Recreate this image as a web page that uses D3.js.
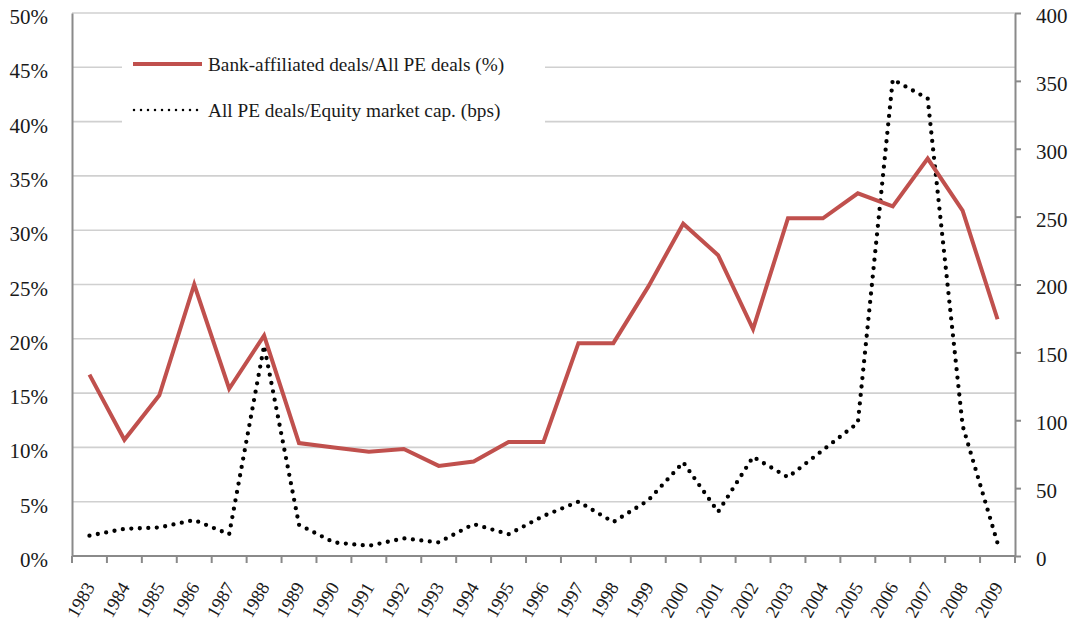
<!DOCTYPE html>
<html>
<head>
<meta charset="utf-8">
<script src="https://cdn.jsdelivr.net/npm/d3@7"></script>
<style>
  body { margin: 0; background: #fff; }
  text { font-family: "Liberation Serif", "Times New Roman", serif; fill: #1a1a1a; }
</style>
</head>
<body>
<div id="chart"></div>
<script>
// years on the x axis
const years = d3.range(1983, 2010).map(String);
// bank-affiliated deals / all PE deals, in %
const bankShare = [16.7, 10.7, 14.8, 25.0, 15.4, 20.3, 10.4, 10.0, 9.6, 9.85, 8.3, 8.7, 10.5, 10.5,
  19.6, 19.6, 24.8, 30.6, 27.7, 20.9, 31.1, 31.1, 33.4, 32.2, 36.6, 31.8, 21.8];
// all PE deals / equity market cap, in bps
const peToMcap = [15, 20, 21, 26.5, 16, 155, 23, 10, 7.5, 13, 10, 23.5, 16, 29.5,
  40, 25, 41, 69, 32.5, 73, 58, 78, 98, 351, 337, 96, 9.5];
const leftTicks = [0, 5, 10, 15, 20, 25, 30, 35, 40, 45, 50];
const rightTicks = [0, 50, 100, 150, 200, 250, 300, 350, 400];
const legendLabels = ['Bank-affiliated deals/All PE deals (%)', 'All PE deals/Equity market cap. (bps)'];

const width = 1073, height = 627;
const margin = {top: 13, right: 58, bottom: 71, left: 72};
const chartWidth = width - margin.left - margin.right;
const chartHeight = height - margin.top - margin.bottom;

const svg = d3.select('#chart').append('svg')
  .attr('width', width)
  .attr('height', height);

const chart = svg.append('g')
  .attr('transform', `translate(${margin.left}, ${margin.top})`);

const scaleX = d3.scaleBand().domain(years).range([0, chartWidth]);
const scaleY = d3.scaleLinear().domain([0, 50]).range([chartHeight, 0]);
const scaleY2 = d3.scaleLinear().domain([0, 400]).range([chartHeight, 0]);

// gridlines
chart.selectAll('.grid')
  .data(leftTicks.filter(d => d > 0))
  .join('line')
  .attr('class', 'grid')
  .attr('x1', 0).attr('x2', chartWidth)
  .attr('y1', d => scaleY(d)).attr('y2', d => scaleY(d))
  .attr('stroke', '#d0d0d0')
  .attr('stroke-width', 1.6);

// left axis
const axisY = chart.append('g')
  .call(d3.axisLeft(scaleY).tickValues(leftTicks).tickSize(0).tickPadding(24).tickFormat(d => d + '%'));
axisY.select('.domain').attr('stroke', '#8a8a8a').attr('stroke-width', 2);
axisY.selectAll('text').style('font-size', '21px').attr('dy', '0.5em');

// right axis
const axisY2 = chart.append('g')
  .attr('transform', `translate(${chartWidth}, 0)`)
  .call(d3.axisRight(scaleY2).tickValues(rightTicks).tickSizeInner(6).tickSizeOuter(0).tickPadding(15));
axisY2.select('.domain').attr('stroke', '#8a8a8a').attr('stroke-width', 2);
axisY2.selectAll('line').attr('stroke', '#8a8a8a').attr('stroke-width', 2);
axisY2.selectAll('text').style('font-size', '21px').attr('dy', '0.45em');

// bottom axis, ticks between categories
const axisX = chart.append('g')
  .attr('transform', `translate(0, ${chartHeight})`);
axisX.append('line')
  .attr('x1', 0).attr('x2', chartWidth)
  .attr('stroke', '#8a8a8a').attr('stroke-width', 2);
axisX.selectAll('.xtick')
  .data(d3.range(years.length + 1))
  .join('line')
  .attr('class', 'xtick')
  .attr('x1', i => i * scaleX.step()).attr('x2', i => i * scaleX.step())
  .attr('y1', 0).attr('y2', 7)
  .attr('stroke', '#8a8a8a').attr('stroke-width', 2);
axisX.selectAll('.xlabel')
  .data(years)
  .join('text')
  .attr('class', 'xlabel')
  .attr('text-anchor', 'end')
  .attr('transform', d => `translate(${scaleX(d) + scaleX.bandwidth() / 2 + 6}, ${31}) rotate(-60)`)
  .style('font-size', '18.5px')
  .text(d => d);

// legend box (covers gridlines)
const legend = chart.append('g').attr('transform', `translate(${122 - margin.left}, ${45 - margin.top})`);
legend.append('rect').attr('width', 423).attr('height', 83).attr('fill', '#fff');

// series
const lineBank = d3.line()
  .x((d, i) => scaleX(years[i]) + scaleX.bandwidth() / 2)
  .y(d => scaleY(d));
const linePE = d3.line()
  .x((d, i) => scaleX(years[i]) + scaleX.bandwidth() / 2)
  .y(d => scaleY2(d));

chart.append('path')
  .attr('d', linePE(peToMcap))
  .attr('fill', 'none')
  .attr('stroke', '#000')
  .attr('stroke-width', 4.3)
  .attr('stroke-linecap', 'round')
  .attr('stroke-dasharray', '0 8.5');

chart.append('path')
  .attr('d', lineBank(bankShare))
  .attr('fill', 'none')
  .attr('stroke', '#c0504d')
  .attr('stroke-width', 4)
  .attr('stroke-linejoin', 'miter');

// legend entries
legend.append('line')
  .attr('x1', 11).attr('x2', 80).attr('y1', 19).attr('y2', 19)
  .attr('stroke', '#c0504d').attr('stroke-width', 4);
legend.append('line')
  .attr('x1', 12).attr('x2', 76).attr('y1', 65).attr('y2', 65)
  .attr('stroke', '#000').attr('stroke-width', 2.5)
  .attr('stroke-linecap', 'round').attr('stroke-dasharray', '0 7');
legend.selectAll('.legtext')
  .data(legendLabels)
  .join('text')
  .attr('class', 'legtext')
  .attr('x', 86)
  .attr('y', (d, i) => 26 + i * 46)
  .style('font-size', '19.3px')
  .text(d => d);
</script>
</body>
</html>
